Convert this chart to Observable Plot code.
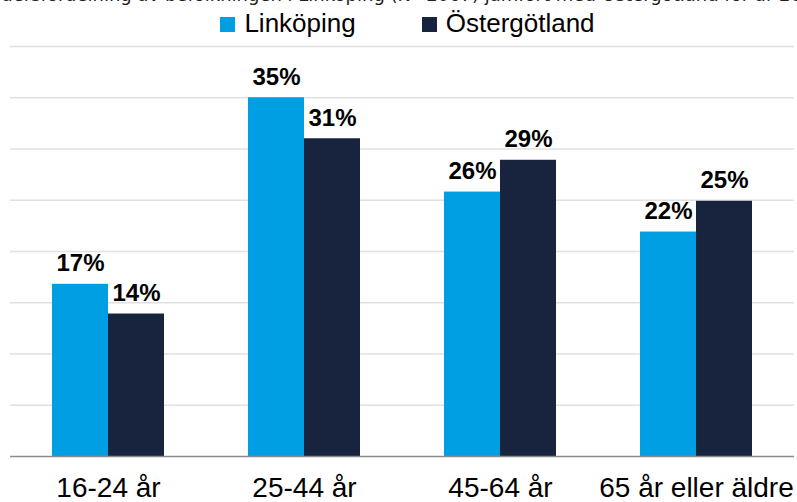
<!DOCTYPE html>
<html><head><meta charset="utf-8">
<script src="https://cdn.jsdelivr.net/npm/d3@7"></script>
<script src="https://cdn.jsdelivr.net/npm/@observablehq/plot@0.6"></script>
<style>
body{margin:0;background:#fff;}
#wrap{width:797px;height:502px;overflow:hidden;position:relative;background:#fff;}
#title{position:absolute;left:-16px;top:-15px;text-align:left;font-family:"DejaVu Sans";font-size:18px;line-height:20px;color:#222;white-space:nowrap;}
#legend{position:absolute;top:10px;left:9px;width:797px;display:flex;justify-content:center;align-items:center;font-family:"Liberation Sans";font-size:26px;line-height:26px;color:#000;}
#legend .item{display:flex;align-items:center;}
#legend .sw{width:15px;height:15px;margin-right:9px;margin-top:2px;}
#legend .item + .item{margin-left:66px;}
#chart{position:absolute;top:40px;left:0;}
</style></head>
<body>
<div id="wrap">
  <div id="title">Åldersfördelning av befolkningen i Linköping (N=2067) jämfört med Östergötland för år 2020</div>
  <div id="legend"></div>
  <div id="chart"></div>
</div>
<script>
const categories = ["16-24 år", "25-44 år", "45-64 år", "65 år eller äldre"];
const series = ["Linköping", "Östergötland"];
const linkopingValues = [16.8, 35.0, 25.8, 21.9];
const ostergotlandValues = [13.9, 31.0, 28.9, 24.9];
const linkopingLabels = ["17%", "35%", "26%", "22%"];
const ostergotlandLabels = ["14%", "31%", "29%", "25%"];
const yTicks = [5, 10, 15, 20, 25, 30, 35, 40];
const colors = ["#009fe3", "#18243e"];

const data = [];
categories.forEach((c, i) => {
  data.push({cat: c, series: series[0], value: linkopingValues[i], label: linkopingLabels[i]});
  data.push({cat: c, series: series[1], value: ostergotlandValues[i], label: ostergotlandLabels[i]});
});

// legend
const legend = document.getElementById("legend");
series.forEach((s, i) => {
  const it = document.createElement("div");
  it.className = "item";
  const sw = document.createElement("span");
  sw.className = "sw";
  sw.style.background = colors[i];
  const tx = document.createElement("span");
  tx.textContent = s;
  it.appendChild(sw); it.appendChild(tx);
  legend.appendChild(it);
});

const W = 797, ML = 8, MR = 2;
const fw = (W - ML - MR) / categories.length;

const chart = Plot.plot({
  width: W,
  height: 462,
  marginLeft: ML,
  marginRight: MR,
  marginTop: 6,
  marginBottom: 46,
  style: {fontFamily: "Liberation Sans", background: "#fff"},
  fx: {domain: categories, padding: 0, axis: null},
  x: {domain: series, paddingInner: 0, paddingOuter: 0.741, axis: null},
  y: {domain: [0, 40], axis: null},
  color: {domain: series, range: colors},
  marks: [
    Plot.ruleY(yTicks, {stroke: "#e0e0e0", strokeWidth: 1.5}),
    Plot.barY(data, {fx: "cat", x: "series", y: "value", fill: "series"}),
    Plot.text(data, {fx: "cat", x: "series", y: "value", text: "label", lineAnchor: "bottom", dy: -13,
      fontSize: 24, fontWeight: "bold", fontFamily: "Liberation Sans", fill: "#000"}),
    Plot.ruleY([0], {stroke: "#8c8c8c", strokeWidth: 1.5}),
    Plot.ruleX(categories, {fx: d => d, dx: -fw / 2, y1: 0, y2: 0, insetBottom: -9, stroke: "#8c8c8c", strokeWidth: 1.5}),
    Plot.ruleX(categories.slice(-1), {fx: d => d, dx: fw / 2, y1: 0, y2: 0, insetBottom: -9, stroke: "#8c8c8c", strokeWidth: 1.5}),
    Plot.text(categories, {fx: d => d, text: d => d, frameAnchor: "bottom", lineAnchor: "top", dy: 21,
      fontSize: 28, fill: "#000"})
  ]
});
document.getElementById("chart").appendChild(chart);
</script>
</body></html>
